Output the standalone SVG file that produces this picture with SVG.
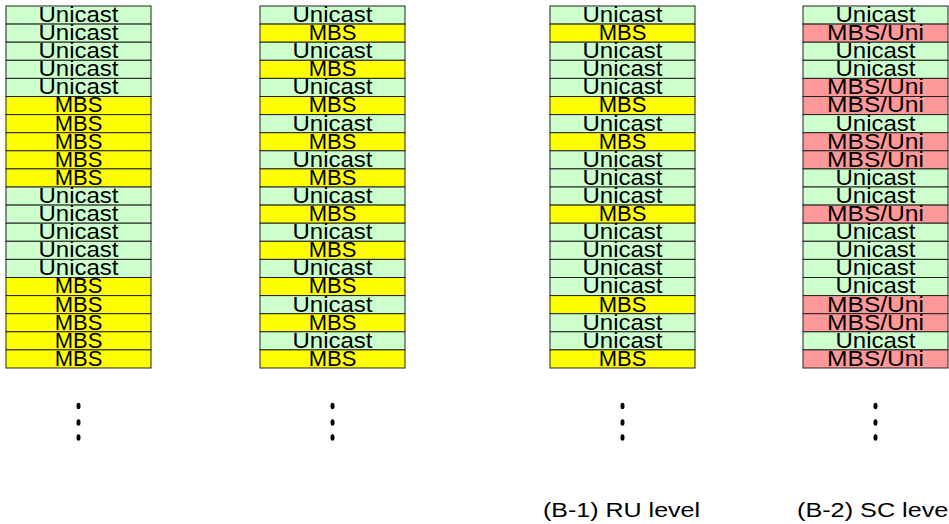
<svg xmlns="http://www.w3.org/2000/svg" width="949" height="524" viewBox="0 0 949 524">
<style>
.u{fill:#CCFFCC;stroke:#222;stroke-width:1}
.m{fill:#FFFF00;stroke:#222;stroke-width:1}
.p{fill:#FF9999;stroke:#222;stroke-width:1}
.t{font-family:"Liberation Sans",Arial,sans-serif;font-size:22px;fill:#000;text-anchor:middle}
.l{font-family:"Liberation Sans",Arial,sans-serif;font-size:20px;fill:#000}
.d{fill:#000}
</style>
<rect width="949" height="524" fill="#fff"/>
<g id="col1">
<rect class="u" x="6" y="6" width="145" height="18.1"/><text class="t" x="78.5" y="21.9" textLength="80" lengthAdjust="spacingAndGlyphs">Unicast</text>
<rect class="u" x="6" y="24.1" width="145" height="18.1"/><text class="t" x="78.5" y="40" textLength="80" lengthAdjust="spacingAndGlyphs">Unicast</text>
<rect class="u" x="6" y="42.2" width="145" height="18.1"/><text class="t" x="78.5" y="58.1" textLength="80" lengthAdjust="spacingAndGlyphs">Unicast</text>
<rect class="u" x="6" y="60.3" width="145" height="18.1"/><text class="t" x="78.5" y="76.2" textLength="80" lengthAdjust="spacingAndGlyphs">Unicast</text>
<rect class="u" x="6" y="78.4" width="145" height="18.1"/><text class="t" x="78.5" y="94.3" textLength="80" lengthAdjust="spacingAndGlyphs">Unicast</text>
<rect class="m" x="6" y="96.5" width="145" height="18.1"/><text class="t" x="78.5" y="112.4">MBS</text>
<rect class="m" x="6" y="114.6" width="145" height="18.1"/><text class="t" x="78.5" y="130.5">MBS</text>
<rect class="m" x="6" y="132.7" width="145" height="18.1"/><text class="t" x="78.5" y="148.6">MBS</text>
<rect class="m" x="6" y="150.8" width="145" height="18.1"/><text class="t" x="78.5" y="166.7">MBS</text>
<rect class="m" x="6" y="168.9" width="145" height="18.1"/><text class="t" x="78.5" y="184.8">MBS</text>
<rect class="u" x="6" y="187" width="145" height="18.1"/><text class="t" x="78.5" y="202.9" textLength="80" lengthAdjust="spacingAndGlyphs">Unicast</text>
<rect class="u" x="6" y="205.1" width="145" height="18.1"/><text class="t" x="78.5" y="221" textLength="80" lengthAdjust="spacingAndGlyphs">Unicast</text>
<rect class="u" x="6" y="223.2" width="145" height="18.1"/><text class="t" x="78.5" y="239.1" textLength="80" lengthAdjust="spacingAndGlyphs">Unicast</text>
<rect class="u" x="6" y="241.3" width="145" height="18.1"/><text class="t" x="78.5" y="257.2" textLength="80" lengthAdjust="spacingAndGlyphs">Unicast</text>
<rect class="u" x="6" y="259.4" width="145" height="18.1"/><text class="t" x="78.5" y="275.3" textLength="80" lengthAdjust="spacingAndGlyphs">Unicast</text>
<rect class="m" x="6" y="277.5" width="145" height="18.1"/><text class="t" x="78.5" y="293.4">MBS</text>
<rect class="m" x="6" y="295.6" width="145" height="18.1"/><text class="t" x="78.5" y="311.5">MBS</text>
<rect class="m" x="6" y="313.7" width="145" height="18.1"/><text class="t" x="78.5" y="329.6">MBS</text>
<rect class="m" x="6" y="331.8" width="145" height="18.1"/><text class="t" x="78.5" y="347.7">MBS</text>
<rect class="m" x="6" y="349.9" width="145" height="18.1"/><text class="t" x="78.5" y="365.8">MBS</text>
<ellipse class="d" cx="78.5" cy="406" rx="2" ry="3.3"/><ellipse class="d" cx="78.5" cy="422.5" rx="2" ry="3.3"/><ellipse class="d" cx="78.5" cy="437.5" rx="2" ry="3.3"/>
</g>
<g id="col2">
<rect class="u" x="260" y="6" width="145" height="18.1"/><text class="t" x="332.5" y="21.9" textLength="80" lengthAdjust="spacingAndGlyphs">Unicast</text>
<rect class="m" x="260" y="24.1" width="145" height="18.1"/><text class="t" x="332.5" y="40">MBS</text>
<rect class="u" x="260" y="42.2" width="145" height="18.1"/><text class="t" x="332.5" y="58.1" textLength="80" lengthAdjust="spacingAndGlyphs">Unicast</text>
<rect class="m" x="260" y="60.3" width="145" height="18.1"/><text class="t" x="332.5" y="76.2">MBS</text>
<rect class="u" x="260" y="78.4" width="145" height="18.1"/><text class="t" x="332.5" y="94.3" textLength="80" lengthAdjust="spacingAndGlyphs">Unicast</text>
<rect class="m" x="260" y="96.5" width="145" height="18.1"/><text class="t" x="332.5" y="112.4">MBS</text>
<rect class="u" x="260" y="114.6" width="145" height="18.1"/><text class="t" x="332.5" y="130.5" textLength="80" lengthAdjust="spacingAndGlyphs">Unicast</text>
<rect class="m" x="260" y="132.7" width="145" height="18.1"/><text class="t" x="332.5" y="148.6">MBS</text>
<rect class="u" x="260" y="150.8" width="145" height="18.1"/><text class="t" x="332.5" y="166.7" textLength="80" lengthAdjust="spacingAndGlyphs">Unicast</text>
<rect class="m" x="260" y="168.9" width="145" height="18.1"/><text class="t" x="332.5" y="184.8">MBS</text>
<rect class="u" x="260" y="187" width="145" height="18.1"/><text class="t" x="332.5" y="202.9" textLength="80" lengthAdjust="spacingAndGlyphs">Unicast</text>
<rect class="m" x="260" y="205.1" width="145" height="18.1"/><text class="t" x="332.5" y="221">MBS</text>
<rect class="u" x="260" y="223.2" width="145" height="18.1"/><text class="t" x="332.5" y="239.1" textLength="80" lengthAdjust="spacingAndGlyphs">Unicast</text>
<rect class="m" x="260" y="241.3" width="145" height="18.1"/><text class="t" x="332.5" y="257.2">MBS</text>
<rect class="u" x="260" y="259.4" width="145" height="18.1"/><text class="t" x="332.5" y="275.3" textLength="80" lengthAdjust="spacingAndGlyphs">Unicast</text>
<rect class="m" x="260" y="277.5" width="145" height="18.1"/><text class="t" x="332.5" y="293.4">MBS</text>
<rect class="u" x="260" y="295.6" width="145" height="18.1"/><text class="t" x="332.5" y="311.5" textLength="80" lengthAdjust="spacingAndGlyphs">Unicast</text>
<rect class="m" x="260" y="313.7" width="145" height="18.1"/><text class="t" x="332.5" y="329.6">MBS</text>
<rect class="u" x="260" y="331.8" width="145" height="18.1"/><text class="t" x="332.5" y="347.7" textLength="80" lengthAdjust="spacingAndGlyphs">Unicast</text>
<rect class="m" x="260" y="349.9" width="145" height="18.1"/><text class="t" x="332.5" y="365.8">MBS</text>
<ellipse class="d" cx="332.5" cy="406" rx="2" ry="3.3"/><ellipse class="d" cx="332.5" cy="422.5" rx="2" ry="3.3"/><ellipse class="d" cx="332.5" cy="437.5" rx="2" ry="3.3"/>
</g>
<g id="col3">
<rect class="u" x="550" y="6" width="145" height="18.1"/><text class="t" x="622.5" y="21.9" textLength="80" lengthAdjust="spacingAndGlyphs">Unicast</text>
<rect class="m" x="550" y="24.1" width="145" height="18.1"/><text class="t" x="622.5" y="40">MBS</text>
<rect class="u" x="550" y="42.2" width="145" height="18.1"/><text class="t" x="622.5" y="58.1" textLength="80" lengthAdjust="spacingAndGlyphs">Unicast</text>
<rect class="u" x="550" y="60.3" width="145" height="18.1"/><text class="t" x="622.5" y="76.2" textLength="80" lengthAdjust="spacingAndGlyphs">Unicast</text>
<rect class="u" x="550" y="78.4" width="145" height="18.1"/><text class="t" x="622.5" y="94.3" textLength="80" lengthAdjust="spacingAndGlyphs">Unicast</text>
<rect class="m" x="550" y="96.5" width="145" height="18.1"/><text class="t" x="622.5" y="112.4">MBS</text>
<rect class="u" x="550" y="114.6" width="145" height="18.1"/><text class="t" x="622.5" y="130.5" textLength="80" lengthAdjust="spacingAndGlyphs">Unicast</text>
<rect class="m" x="550" y="132.7" width="145" height="18.1"/><text class="t" x="622.5" y="148.6">MBS</text>
<rect class="u" x="550" y="150.8" width="145" height="18.1"/><text class="t" x="622.5" y="166.7" textLength="80" lengthAdjust="spacingAndGlyphs">Unicast</text>
<rect class="u" x="550" y="168.9" width="145" height="18.1"/><text class="t" x="622.5" y="184.8" textLength="80" lengthAdjust="spacingAndGlyphs">Unicast</text>
<rect class="u" x="550" y="187" width="145" height="18.1"/><text class="t" x="622.5" y="202.9" textLength="80" lengthAdjust="spacingAndGlyphs">Unicast</text>
<rect class="m" x="550" y="205.1" width="145" height="18.1"/><text class="t" x="622.5" y="221">MBS</text>
<rect class="u" x="550" y="223.2" width="145" height="18.1"/><text class="t" x="622.5" y="239.1" textLength="80" lengthAdjust="spacingAndGlyphs">Unicast</text>
<rect class="u" x="550" y="241.3" width="145" height="18.1"/><text class="t" x="622.5" y="257.2" textLength="80" lengthAdjust="spacingAndGlyphs">Unicast</text>
<rect class="u" x="550" y="259.4" width="145" height="18.1"/><text class="t" x="622.5" y="275.3" textLength="80" lengthAdjust="spacingAndGlyphs">Unicast</text>
<rect class="u" x="550" y="277.5" width="145" height="18.1"/><text class="t" x="622.5" y="293.4" textLength="80" lengthAdjust="spacingAndGlyphs">Unicast</text>
<rect class="m" x="550" y="295.6" width="145" height="18.1"/><text class="t" x="622.5" y="311.5">MBS</text>
<rect class="u" x="550" y="313.7" width="145" height="18.1"/><text class="t" x="622.5" y="329.6" textLength="80" lengthAdjust="spacingAndGlyphs">Unicast</text>
<rect class="u" x="550" y="331.8" width="145" height="18.1"/><text class="t" x="622.5" y="347.7" textLength="80" lengthAdjust="spacingAndGlyphs">Unicast</text>
<rect class="m" x="550" y="349.9" width="145" height="18.1"/><text class="t" x="622.5" y="365.8">MBS</text>
<ellipse class="d" cx="622.5" cy="406" rx="2" ry="3.3"/><ellipse class="d" cx="622.5" cy="422.5" rx="2" ry="3.3"/><ellipse class="d" cx="622.5" cy="437.5" rx="2" ry="3.3"/>
<text class="l" x="543" y="517" textLength="157" lengthAdjust="spacingAndGlyphs">(B-1) RU level</text>
</g>
<g id="col4">
<rect class="u" x="803" y="6" width="145" height="18.1"/><text class="t" x="875.5" y="21.9" textLength="80" lengthAdjust="spacingAndGlyphs">Unicast</text>
<rect class="p" x="803" y="24.1" width="145" height="18.1"/><text class="t" x="875.5" y="40" textLength="97" lengthAdjust="spacingAndGlyphs">MBS/Uni</text>
<rect class="u" x="803" y="42.2" width="145" height="18.1"/><text class="t" x="875.5" y="58.1" textLength="80" lengthAdjust="spacingAndGlyphs">Unicast</text>
<rect class="u" x="803" y="60.3" width="145" height="18.1"/><text class="t" x="875.5" y="76.2" textLength="80" lengthAdjust="spacingAndGlyphs">Unicast</text>
<rect class="p" x="803" y="78.4" width="145" height="18.1"/><text class="t" x="875.5" y="94.3" textLength="97" lengthAdjust="spacingAndGlyphs">MBS/Uni</text>
<rect class="p" x="803" y="96.5" width="145" height="18.1"/><text class="t" x="875.5" y="112.4" textLength="97" lengthAdjust="spacingAndGlyphs">MBS/Uni</text>
<rect class="u" x="803" y="114.6" width="145" height="18.1"/><text class="t" x="875.5" y="130.5" textLength="80" lengthAdjust="spacingAndGlyphs">Unicast</text>
<rect class="p" x="803" y="132.7" width="145" height="18.1"/><text class="t" x="875.5" y="148.6" textLength="97" lengthAdjust="spacingAndGlyphs">MBS/Uni</text>
<rect class="p" x="803" y="150.8" width="145" height="18.1"/><text class="t" x="875.5" y="166.7" textLength="97" lengthAdjust="spacingAndGlyphs">MBS/Uni</text>
<rect class="u" x="803" y="168.9" width="145" height="18.1"/><text class="t" x="875.5" y="184.8" textLength="80" lengthAdjust="spacingAndGlyphs">Unicast</text>
<rect class="u" x="803" y="187" width="145" height="18.1"/><text class="t" x="875.5" y="202.9" textLength="80" lengthAdjust="spacingAndGlyphs">Unicast</text>
<rect class="p" x="803" y="205.1" width="145" height="18.1"/><text class="t" x="875.5" y="221" textLength="97" lengthAdjust="spacingAndGlyphs">MBS/Uni</text>
<rect class="u" x="803" y="223.2" width="145" height="18.1"/><text class="t" x="875.5" y="239.1" textLength="80" lengthAdjust="spacingAndGlyphs">Unicast</text>
<rect class="u" x="803" y="241.3" width="145" height="18.1"/><text class="t" x="875.5" y="257.2" textLength="80" lengthAdjust="spacingAndGlyphs">Unicast</text>
<rect class="u" x="803" y="259.4" width="145" height="18.1"/><text class="t" x="875.5" y="275.3" textLength="80" lengthAdjust="spacingAndGlyphs">Unicast</text>
<rect class="u" x="803" y="277.5" width="145" height="18.1"/><text class="t" x="875.5" y="293.4" textLength="80" lengthAdjust="spacingAndGlyphs">Unicast</text>
<rect class="p" x="803" y="295.6" width="145" height="18.1"/><text class="t" x="875.5" y="311.5" textLength="97" lengthAdjust="spacingAndGlyphs">MBS/Uni</text>
<rect class="p" x="803" y="313.7" width="145" height="18.1"/><text class="t" x="875.5" y="329.6" textLength="97" lengthAdjust="spacingAndGlyphs">MBS/Uni</text>
<rect class="u" x="803" y="331.8" width="145" height="18.1"/><text class="t" x="875.5" y="347.7" textLength="80" lengthAdjust="spacingAndGlyphs">Unicast</text>
<rect class="p" x="803" y="349.9" width="145" height="18.1"/><text class="t" x="875.5" y="365.8" textLength="97" lengthAdjust="spacingAndGlyphs">MBS/Uni</text>
<ellipse class="d" cx="875.5" cy="406" rx="2" ry="3.3"/><ellipse class="d" cx="875.5" cy="422.5" rx="2" ry="3.3"/><ellipse class="d" cx="875.5" cy="437.5" rx="2" ry="3.3"/>
<text class="l" x="797" y="517" textLength="157" lengthAdjust="spacingAndGlyphs">(B-2) SC level</text>
</g>
<g id="connectors"/>
</svg>
